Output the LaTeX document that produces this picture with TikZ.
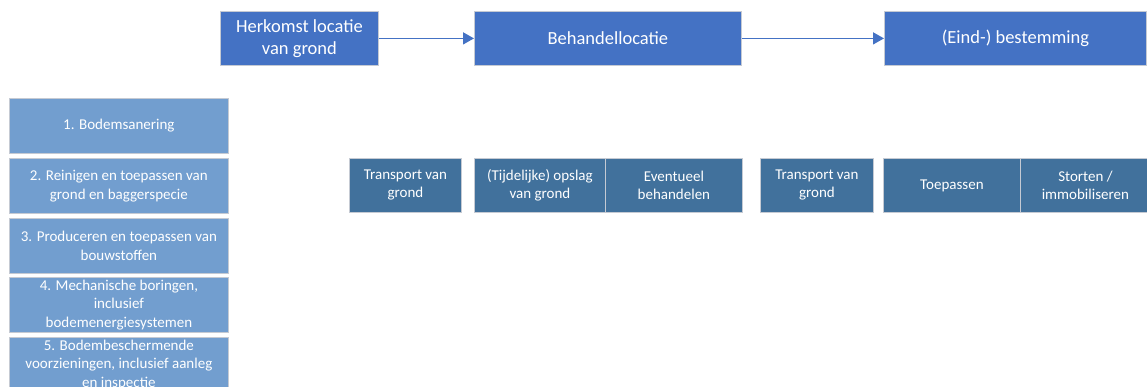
\documentclass[tikz,border=0pt]{standalone}
\usepackage{fontspec}
\setmainfont{Carlito}
\usetikzlibrary{arrows.meta}
\definecolor{topblue}{HTML}{4472C4}
\definecolor{listblue}{HTML}{729ECF}
\definecolor{midblue}{HTML}{41719C}
\definecolor{bordergray}{HTML}{C5CAD3}
\tikzset{
  basebox/.style={draw=bordergray, line width=0.8pt, text=white, inner sep=0pt, align=center, anchor=north west},
  topbox/.style={basebox, fill=topblue, minimum height=54pt, font=\fontsize{18.5}{22}\selectfont},
  listbox/.style={basebox, fill=listblue, minimum width=219pt, minimum height=55pt, font=\fontsize{15}{18.5}\selectfont},
  midbox/.style={basebox, fill=midblue, minimum height=54pt, font=\fontsize{15}{18}\selectfont},
  flowarrow/.style={draw=topblue, line width=1.5pt, -{Triangle[length=11pt,width=12pt]}}
}
\begin{document}
\begin{tikzpicture}[x=1pt,y=-1pt]
\useasboundingbox (0,0) rectangle (1147,387);
\clip (0,0) rectangle (1147,387);
% top row
\node[topbox, minimum width=158pt] (h) at (220,11) {Herkomst locatie\\van grond};
\node[topbox, minimum width=267pt] (b) at (474,11) {Behandellocatie};
\node[topbox, minimum width=262pt] (e) at (884,11) {(Eind-) bestemming};
\draw[flowarrow] (h) -- (b);
\draw[flowarrow] (b) -- (e);
% list
\node[listbox] (l1) at (9,98) {1. Bodemsanering};
\node[listbox] (l2) at (9,158) {2. Reinigen en toepassen van\\grond en baggerspecie};
\node[listbox] (l3) at (9,218) {3. Produceren en toepassen van\\bouwstoffen};
\node[listbox] (l4) at (9,277) {4. Mechanische boringen,\\inclusief\\bodemenergiesystemen};
\node[listbox] (l5) at (9,337) {5. Bodembeschermende\\voorzieningen, inclusief aanleg\\en inspectie};
% middle row
\node[midbox, minimum width=112pt] (m1) at (349,158) {Transport van\\grond};
\node[midbox, minimum width=131pt] (m2) at (474,158) {(Tijdelijke) opslag\\van grond};
\node[midbox, minimum width=137pt] (m3) at (605,158) {Eventueel\\behandelen};
\node[midbox, minimum width=113pt] (m4) at (760,158) {Transport van\\grond};
\node[midbox, minimum width=137pt] (m5) at (883,158) {Toepassen};
\node[midbox, minimum width=130pt] (m6) at (1020,158) {Storten /\\immobiliseren};
\end{tikzpicture}
\end{document}
